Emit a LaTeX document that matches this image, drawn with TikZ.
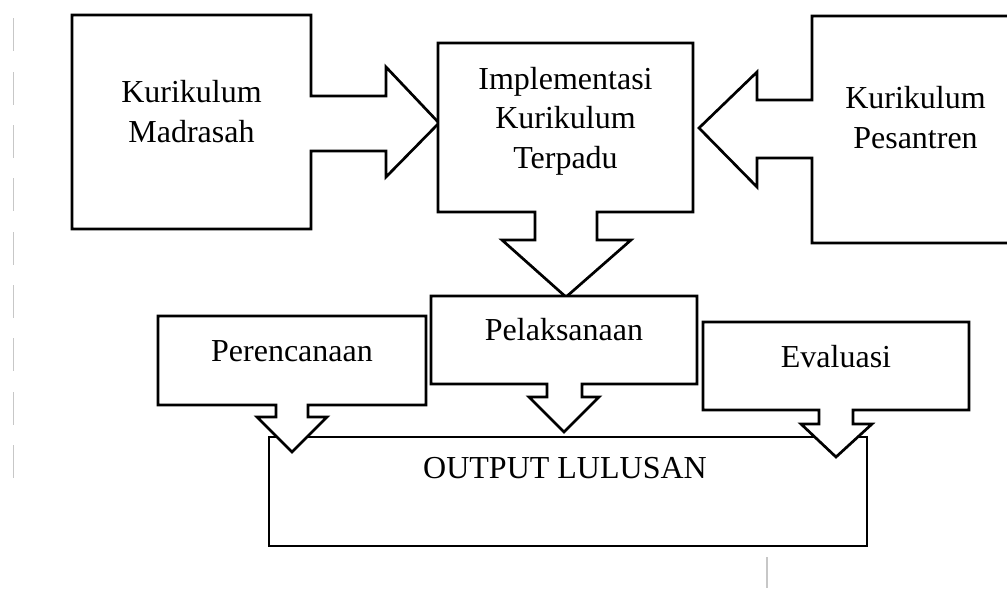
\documentclass[tikz,border=0pt]{standalone}
\usepackage{fontspec}
\setmainfont{Liberation Serif}
\begin{document}
\begin{tikzpicture}[x=1pt,y=-1pt,
  shp/.style={draw=black,line width=2.7pt,fill=white,line join=miter},
  lbl/.style={font=\fontsize{32}{39.3}\selectfont,align=center,inner sep=0pt,anchor=base},
  gmark/.style={draw=black!22,line width=1.3pt}]
\useasboundingbox (0,0) rectangle (1007,589);
\clip (0,0) rectangle (1007,589);
% faint marks
\foreach \yy in {18,72,125,178,232,285,338,392,445}{
  \draw[gmark] (13.5,\yy) -- (13.5,\yy+33);
}
\draw[gmark] (767,557) -- (767,588);
% output box
\draw[shp] (269,437) rectangle (867,546);
% Madrasah
\draw[shp] (72,15) -- (311,15) -- (311,96) -- (386,96) -- (386,67) -- (439,123) -- (386,177) -- (386,151) -- (311,151) -- (311,229) -- (72,229) -- cycle;
% Pesantren
\draw[shp] (1015,16) -- (812,16) -- (812,100) -- (757,100) -- (757,72) -- (699,128) -- (757,187) -- (757,158) -- (812,158) -- (812,243) -- (1015,243) -- cycle;
% Center
\draw[shp] (438,43) -- (693,43) -- (693,212) -- (597,212) -- (597,240) -- (631,240) -- (566,297) -- (502,240) -- (535,240) -- (535,212) -- (438,212) -- cycle;
% Perencanaan
\draw[shp] (158,316) -- (426,316) -- (426,405) -- (308,405) -- (308,417) -- (327,417) -- (292,452) -- (257,417) -- (276,417) -- (276,405) -- (158,405) -- cycle;
% Pelaksanaan
\draw[shp] (431,296) -- (697,296) -- (697,384) -- (582,384) -- (582,397) -- (599,397) -- (564,432) -- (529,397) -- (547,397) -- (547,384) -- (431,384) -- cycle;
% Evaluasi
\draw[shp] (703,322) -- (969,322) -- (969,410) -- (853,410) -- (853,424) -- (872,424) -- (836,457) -- (801,424) -- (819,424) -- (819,410) -- (703,410) -- cycle;
% labels (base anchor = baseline of last line)
\node[lbl] (madrasah) at (191.5,142) {Kurikulum\\Madrasah};
\node[lbl] (terpadu) at (565.5,168) {Implementasi\\Kurikulum\\Terpadu};
\node[lbl] (pesantren) at (915.5,148) {Kurikulum\\Pesantren};
\node[lbl] (perencanaan) at (292,361) {Perencanaan};
\node[lbl] (pelaksanaan) at (564,340) {Pelaksanaan};
\node[lbl] (evaluasi) at (836,367) {Evaluasi};
\node[lbl] (output) at (565,478) {OUTPUT LULUSAN};
\end{tikzpicture}
\end{document}
